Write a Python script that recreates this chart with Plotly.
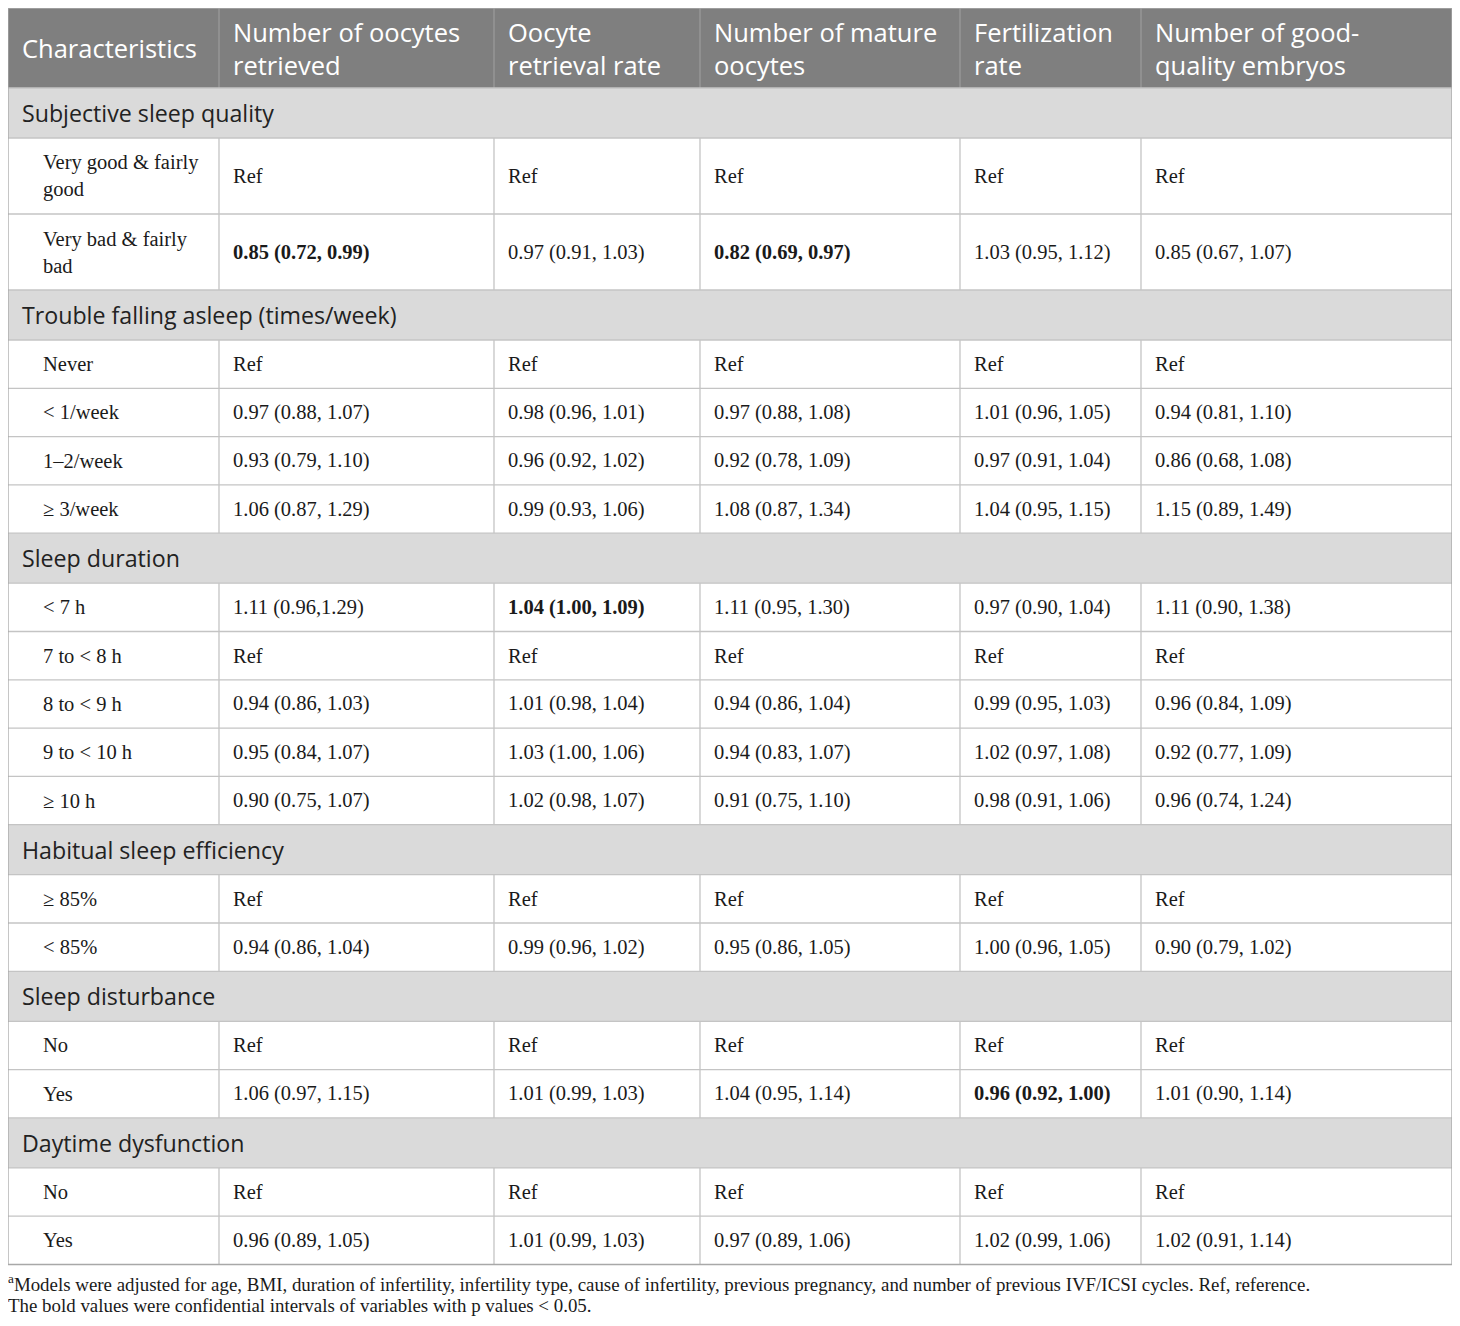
import plotly.graph_objects as go

# ---------------- data ----------------
header = ["Characteristics", "Number of oocytes<br>retrieved", "Oocyte<br>retrieval rate",
          "Number of mature<br>oocytes", "Fertilization<br>rate", "Number of good-<br>quality embryos"]

sections = ["Subjective sleep quality", "Trouble falling asleep (times/week)", "Sleep duration",
            "Habitual sleep efficiency", "Sleep disturbance", "Daytime dysfunction"]

section_rows = [
    ["Very good & fairly<br>good", "Very bad & fairly<br>bad"],
    ["Never", "< 1/week", "1–2/week", "≥ 3/week"],
    ["< 7 h", "7 to < 8 h", "8 to < 9 h", "9 to < 10 h", "≥ 10 h"],
    ["≥ 85%", "< 85%"],
    ["No", "Yes"],
    ["No", "Yes"],
]

oocytes_retrieved = ["Ref", "0.85 (0.72, 0.99)",
                     "Ref", "0.97 (0.88, 1.07)", "0.93 (0.79, 1.10)", "1.06 (0.87, 1.29)",
                     "1.11 (0.96,1.29)", "Ref", "0.94 (0.86, 1.03)", "0.95 (0.84, 1.07)", "0.90 (0.75, 1.07)",
                     "Ref", "0.94 (0.86, 1.04)",
                     "Ref", "1.06 (0.97, 1.15)",
                     "Ref", "0.96 (0.89, 1.05)"]
retrieval_rate = ["Ref", "0.97 (0.91, 1.03)",
                  "Ref", "0.98 (0.96, 1.01)", "0.96 (0.92, 1.02)", "0.99 (0.93, 1.06)",
                  "1.04 (1.00, 1.09)", "Ref", "1.01 (0.98, 1.04)", "1.03 (1.00, 1.06)", "1.02 (0.98, 1.07)",
                  "Ref", "0.99 (0.96, 1.02)",
                  "Ref", "1.01 (0.99, 1.03)",
                  "Ref", "1.01 (0.99, 1.03)"]
mature_oocytes = ["Ref", "0.82 (0.69, 0.97)",
                  "Ref", "0.97 (0.88, 1.08)", "0.92 (0.78, 1.09)", "1.08 (0.87, 1.34)",
                  "1.11 (0.95, 1.30)", "Ref", "0.94 (0.86, 1.04)", "0.94 (0.83, 1.07)", "0.91 (0.75, 1.10)",
                  "Ref", "0.95 (0.86, 1.05)",
                  "Ref", "1.04 (0.95, 1.14)",
                  "Ref", "0.97 (0.89, 1.06)"]
fertilization_rate = ["Ref", "1.03 (0.95, 1.12)",
                      "Ref", "1.01 (0.96, 1.05)", "0.97 (0.91, 1.04)", "1.04 (0.95, 1.15)",
                      "0.97 (0.90, 1.04)", "Ref", "0.99 (0.95, 1.03)", "1.02 (0.97, 1.08)", "0.98 (0.91, 1.06)",
                      "Ref", "1.00 (0.96, 1.05)",
                      "Ref", "0.96 (0.92, 1.00)",
                      "Ref", "1.02 (0.99, 1.06)"]
good_embryos = ["Ref", "0.85 (0.67, 1.07)",
                "Ref", "0.94 (0.81, 1.10)", "0.86 (0.68, 1.08)", "1.15 (0.89, 1.49)",
                "1.11 (0.90, 1.38)", "Ref", "0.96 (0.84, 1.09)", "0.92 (0.77, 1.09)", "0.96 (0.74, 1.24)",
                "Ref", "0.90 (0.79, 1.02)",
                "Ref", "1.01 (0.90, 1.14)",
                "Ref", "1.02 (0.91, 1.14)"]

# (data row index, value column index) of bold (p < 0.05) cells
bold_cells = [(1, 0), (1, 2), (6, 1), (14, 3)]

footnotes = ["<sup>a</sup>Models were adjusted for age, BMI, duration of infertility, infertility type, "
             "cause of infertility, previous pregnancy, and number of previous IVF/ICSI cycles. Ref, reference.",
             "The bold values were confidential intervals of variables with p values < 0.05."]

# ---------------- style ----------------
PAGE_W, PAGE_H, BODY_MARGIN = 1460, 1326, 8
W, H = PAGE_W - BODY_MARGIN, PAGE_H - BODY_MARGIN
LEFT, TOP = 8, 8
COL_W = [211, 275, 206, 260, 181, 311]
HEADER_H, SECTION_H, ROW_H, TALL_H = 80, 50, 48.3, 76
PAD, INDENT = 12, 33
HEADER_BG, SECTION_BG = "#7f7f7f", "#dadada"
GRID, HEADER_GRID = "#c4c4c4", "#9a9a9a"
SANS, SERIF = "Open Sans", "Liberation Serif"
TEXT = "#1a1a1a"
HEAD_FS, SEC_FS, BODY_FS, NOTE_FS = 25.5, 23.2, 20.5, 18.9

columns = [oocytes_retrieved, retrieval_rate, mature_oocytes, fertilization_rate, good_embryos]

col_x = [LEFT]
for w in COL_W:
    col_x.append(col_x[-1] + w)
RIGHT = col_x[-1]

shapes, annots = [], []


def text(x, y, s, family, size, color=TEXT, xshift=0):
    annots.append(dict(x=x, y=y, xref="x", yref="y", text=s, showarrow=False,
                       xanchor="left", yanchor="middle", align="left", xshift=xshift,
                       font=dict(family=family, size=size, color=color)))


def hline(y, color=GRID):
    shapes.append(dict(type="line", xref="x", yref="y", x0=LEFT, x1=RIGHT, y0=y, y1=y,
                       line=dict(color=color, width=1.3)))


def vline(x, y0, y1, color=GRID):
    shapes.append(dict(type="line", xref="x", yref="y", x0=x, x1=x, y0=y0, y1=y1,
                       line=dict(color=color, width=1.3)))


# header
y = TOP
shapes.append(dict(type="rect", xref="x", yref="y", x0=LEFT, x1=RIGHT, y0=y, y1=y + HEADER_H,
                   fillcolor=HEADER_BG, line=dict(width=0), layer="below"))
for c, h in enumerate(header):
    text(col_x[c] + PAD, y + HEADER_H / 2, h, SANS, HEAD_FS, "white")
    if c > 0:
        vline(col_x[c], y, y + HEADER_H, HEADER_GRID)
y += HEADER_H

r = 0
for s, labels in zip(sections, section_rows):
    shapes.append(dict(type="rect", xref="x", yref="y", x0=LEFT, x1=RIGHT, y0=y, y1=y + SECTION_H,
                       fillcolor=SECTION_BG, line=dict(width=0), layer="below"))
    hline(y)
    text(LEFT + PAD, y + SECTION_H / 2, s, SANS, SEC_FS, "#222222")
    y += SECTION_H
    for lab in labels:
        h = TALL_H if "<br>" in lab else ROW_H
        hline(y)
        text(LEFT + INDENT, y + h / 2, lab, SERIF, BODY_FS)
        for c, col in enumerate(columns):
            v = col[r]
            if (r, c) in bold_cells:
                v = "<b>" + v + "</b>"
            text(col_x[c + 1] + PAD, y + h / 2, v, SERIF, BODY_FS)
            vline(col_x[c + 1], y, y + h)
        y += h
        r += 1

# outer border
shapes.append(dict(type="rect", xref="x", yref="y", x0=LEFT, x1=RIGHT, y0=TOP, y1=y,
                   line=dict(color="#a8a8a8", width=1.3)))

# footnotes
for i, f in enumerate(footnotes):
    text(LEFT, y + 18 + i * 23, f, SERIF, NOTE_FS, xshift=-2)

fig = go.Figure(go.Scatter(x=[LEFT, RIGHT], y=[TOP, y], mode="markers", marker=dict(opacity=0),
                           hoverinfo="skip", showlegend=False))
fig.update_layout(
    width=W, height=H, margin=dict(l=0, r=0, t=0, b=0),
    paper_bgcolor="white", plot_bgcolor="white",
    xaxis=dict(range=[BODY_MARGIN, PAGE_W], visible=False, fixedrange=True),
    yaxis=dict(range=[PAGE_H, BODY_MARGIN], visible=False, fixedrange=True),
    shapes=shapes, annotations=annots, showlegend=False,
)
fig.write_html("out.html")
